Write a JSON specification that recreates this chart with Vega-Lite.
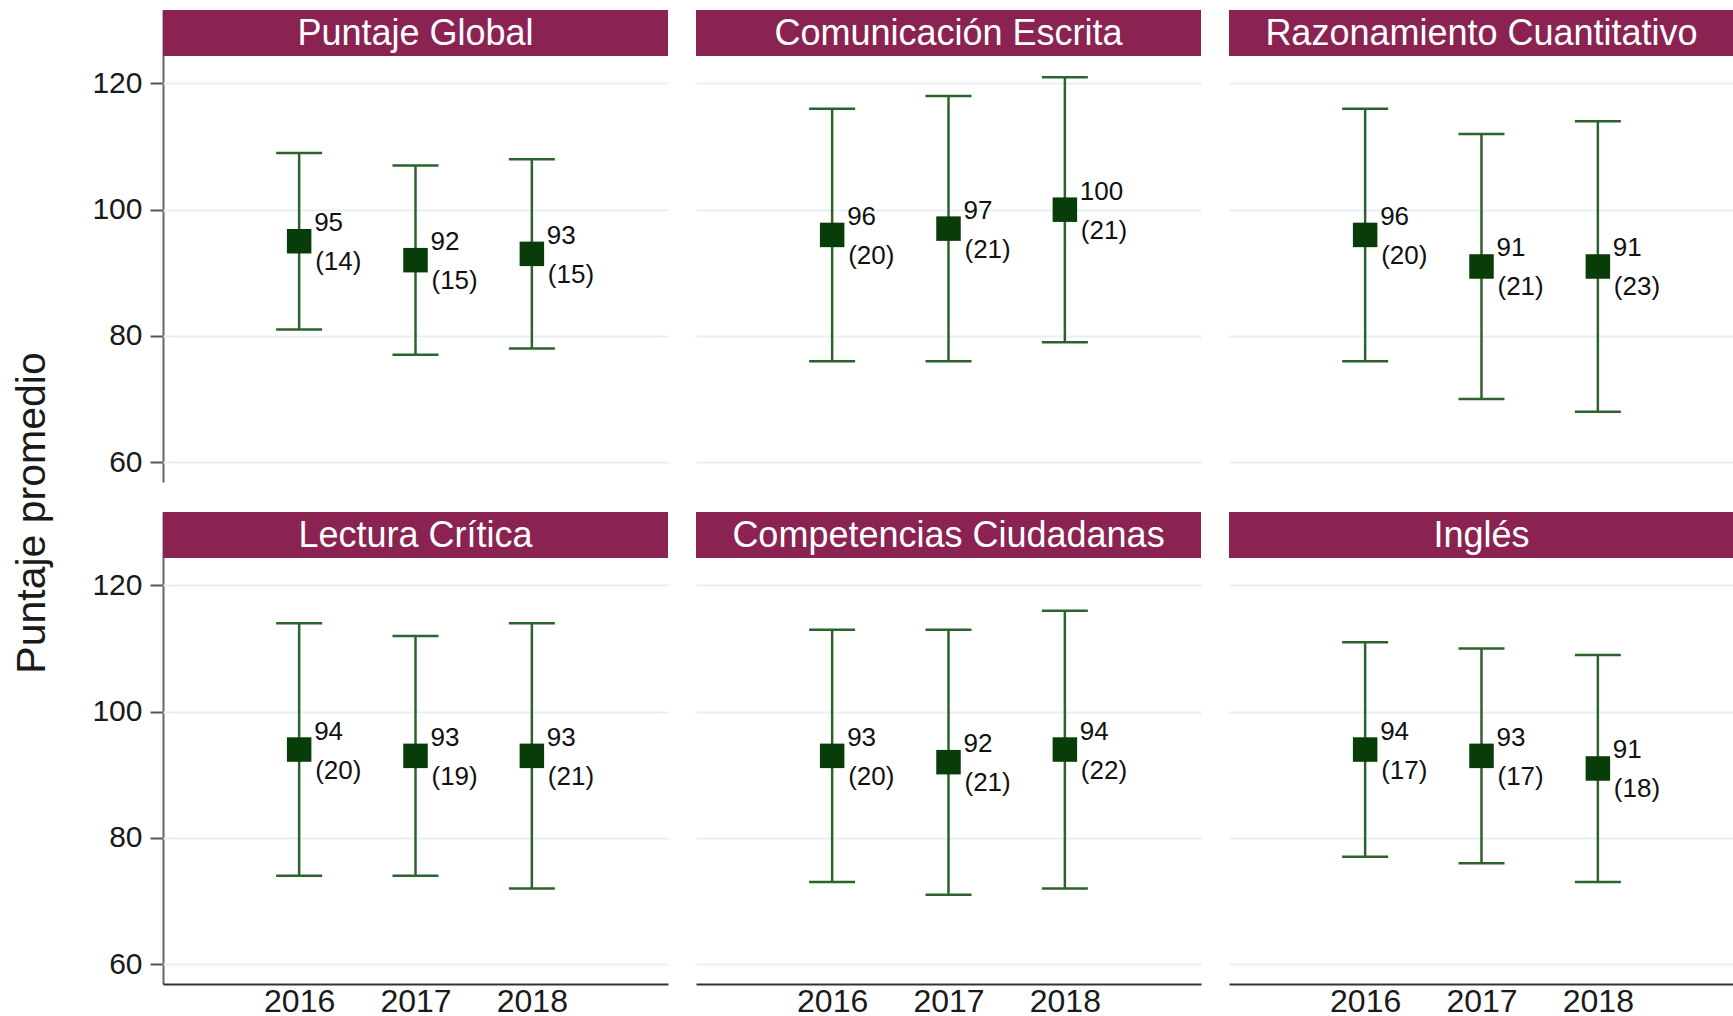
{
  "$schema": "https://vega.github.io/schema/vega-lite/v6.json",
  "padding": {"left": 11, "top": 9, "right": 0, "bottom": 0},
  "background": "white",
  "title": {"text": "Puntaje promedio", "orient": "left", "anchor": "middle", "fontSize": 41, "fontWeight": "normal", "font": "Liberation Sans", "color": "#1a1a1a", "offset": 38},
  "data": {
    "values": [
      {"materia": "Puntaje Global", "anio": 2016, "media": 95, "de": 14, "lo": 81, "hi": 109},
      {"materia": "Puntaje Global", "anio": 2017, "media": 92, "de": 15, "lo": 77, "hi": 107},
      {"materia": "Puntaje Global", "anio": 2018, "media": 93, "de": 15, "lo": 78, "hi": 108},
      {"materia": "Comunicación Escrita", "anio": 2016, "media": 96, "de": 20, "lo": 76, "hi": 116},
      {"materia": "Comunicación Escrita", "anio": 2017, "media": 97, "de": 21, "lo": 76, "hi": 118},
      {"materia": "Comunicación Escrita", "anio": 2018, "media": 100, "de": 21, "lo": 79, "hi": 121},
      {"materia": "Razonamiento Cuantitativo", "anio": 2016, "media": 96, "de": 20, "lo": 76, "hi": 116},
      {"materia": "Razonamiento Cuantitativo", "anio": 2017, "media": 91, "de": 21, "lo": 70, "hi": 112},
      {"materia": "Razonamiento Cuantitativo", "anio": 2018, "media": 91, "de": 23, "lo": 68, "hi": 114},
      {"materia": "Lectura Crítica", "anio": 2016, "media": 94, "de": 20, "lo": 74, "hi": 114},
      {"materia": "Lectura Crítica", "anio": 2017, "media": 93, "de": 19, "lo": 74, "hi": 112},
      {"materia": "Lectura Crítica", "anio": 2018, "media": 93, "de": 21, "lo": 72, "hi": 114},
      {"materia": "Competencias Ciudadanas", "anio": 2016, "media": 93, "de": 20, "lo": 73, "hi": 113},
      {"materia": "Competencias Ciudadanas", "anio": 2017, "media": 92, "de": 21, "lo": 71, "hi": 113},
      {"materia": "Competencias Ciudadanas", "anio": 2018, "media": 94, "de": 22, "lo": 72, "hi": 116},
      {"materia": "Inglés", "anio": 2016, "media": 94, "de": 17, "lo": 77, "hi": 111},
      {"materia": "Inglés", "anio": 2017, "media": 93, "de": 17, "lo": 76, "hi": 110},
      {"materia": "Inglés", "anio": 2018, "media": 91, "de": 18, "lo": 73, "hi": 109}
    ]
  },
  "facet": {
    "field": "materia",
    "type": "nominal",
    "sort": ["Puntaje Global", "Comunicación Escrita", "Razonamiento Cuantitativo", "Lectura Crítica", "Competencias Ciudadanas", "Inglés"],
    "title": null,
    "header": {"labels": false, "title": null, "labelExpr": "''", "labelFontSize": 1, "labelPadding": 0}
  },
  "columns": 3,
  "spacing": {"row": 29, "column": 28},
  "spec": {
    "width": 505,
    "height": 472,
    "layer": [
      {
        "mark": {"type": "rect", "color": "#8a2352"},
        "encoding": {
          "y": {"datum": 124.35, "type": "quantitative", "title": null, "scale": {"domain": [56.85, 131.64], "nice": false, "zero": false}, "axis": {"values": [60, 80, 100, 120]}},
          "y2": {"datum": 131.64}
        }
      },
      {
        "mark": {"type": "rule", "color": "#2c632c", "strokeWidth": 2.5},
        "encoding": {
          "x": {"field": "anio", "type": "quantitative", "title": null, "scale": {"domain": [2014.83, 2019.17], "nice": false, "zero": false}, "axis": {"values": [2016, 2017, 2018], "format": "d"}},
          "y": {"field": "lo", "type": "quantitative", "title": null},
          "y2": {"field": "hi"}
        }
      },
      {
        "mark": {"type": "tick", "orient": "horizontal", "color": "#2c632c", "size": 46, "thickness": 2.5, "opacity": 1},
        "encoding": {
          "x": {"field": "anio", "type": "quantitative", "title": null},
          "y": {"field": "lo", "type": "quantitative", "title": null}
        }
      },
      {
        "mark": {"type": "tick", "orient": "horizontal", "color": "#2c632c", "size": 46, "thickness": 2.5, "opacity": 1},
        "encoding": {
          "x": {"field": "anio", "type": "quantitative", "title": null},
          "y": {"field": "hi", "type": "quantitative", "title": null}
        }
      },
      {
        "mark": {"type": "square", "size": 600, "filled": true, "color": "#083c08", "opacity": 1},
        "encoding": {
          "x": {"field": "anio", "type": "quantitative", "title": null},
          "y": {"field": "media", "type": "quantitative", "title": null}
        }
      },
      {
        "mark": {"type": "text", "align": "left", "baseline": "middle", "dx": 15, "dy": -18, "fontSize": 26, "font": "Liberation Sans", "color": "#111111"},
        "encoding": {
          "x": {"field": "anio", "type": "quantitative", "title": null},
          "y": {"field": "media", "type": "quantitative", "title": null},
          "text": {"field": "media", "type": "quantitative"}
        }
      },
      {
        "mark": {"type": "text", "align": "left", "baseline": "middle", "dx": 16, "dy": 21, "fontSize": 26, "font": "Liberation Sans", "color": "#111111", "text": {"expr": "'(' + datum.de + ')'"}},
        "encoding": {
          "x": {"field": "anio", "type": "quantitative", "title": null},
          "y": {"field": "media", "type": "quantitative", "title": null}
        }
      },
      {
        "transform": [{"filter": "datum.anio == 2017"}],
        "mark": {"type": "text", "color": "white", "fontSize": 36, "font": "Liberation Sans", "baseline": "middle", "align": "center", "dy": 1},
        "encoding": {
          "x": {"field": "anio", "type": "quantitative", "title": null},
          "y": {"datum": 128.0, "type": "quantitative", "title": null},
          "text": {"field": "materia"}
        }
      }
    ]
  },
  "config": {
    "view": {"stroke": null},
    "font": "Liberation Sans",
    "header": {"labels": false, "labelFontSize": 1, "labelPadding": 0, "titlePadding": 0},
    "headerFacet": {"labels": false, "labelFontSize": 1, "labelPadding": 0},
    "axisY": {
      "grid": true,
      "gridColor": "#e7eff2",
      "gridWidth": 2,
      "domainColor": "#666666",
      "domainWidth": 2,
      "tickColor": "#555555",
      "tickWidth": 2,
      "tickSize": 13,
      "labelFontSize": 30,
      "labelColor": "#1a1a1a",
      "labelPadding": 8
    },
    "axisX": {
      "grid": false,
      "ticks": false,
      "domainColor": "#333333",
      "domainWidth": 2,
      "labelFontSize": 32,
      "labelColor": "#1a1a1a",
      "labelPadding": 2,
      "labelAngle": 0,
      "labelFlush": false
    }
  }
}
